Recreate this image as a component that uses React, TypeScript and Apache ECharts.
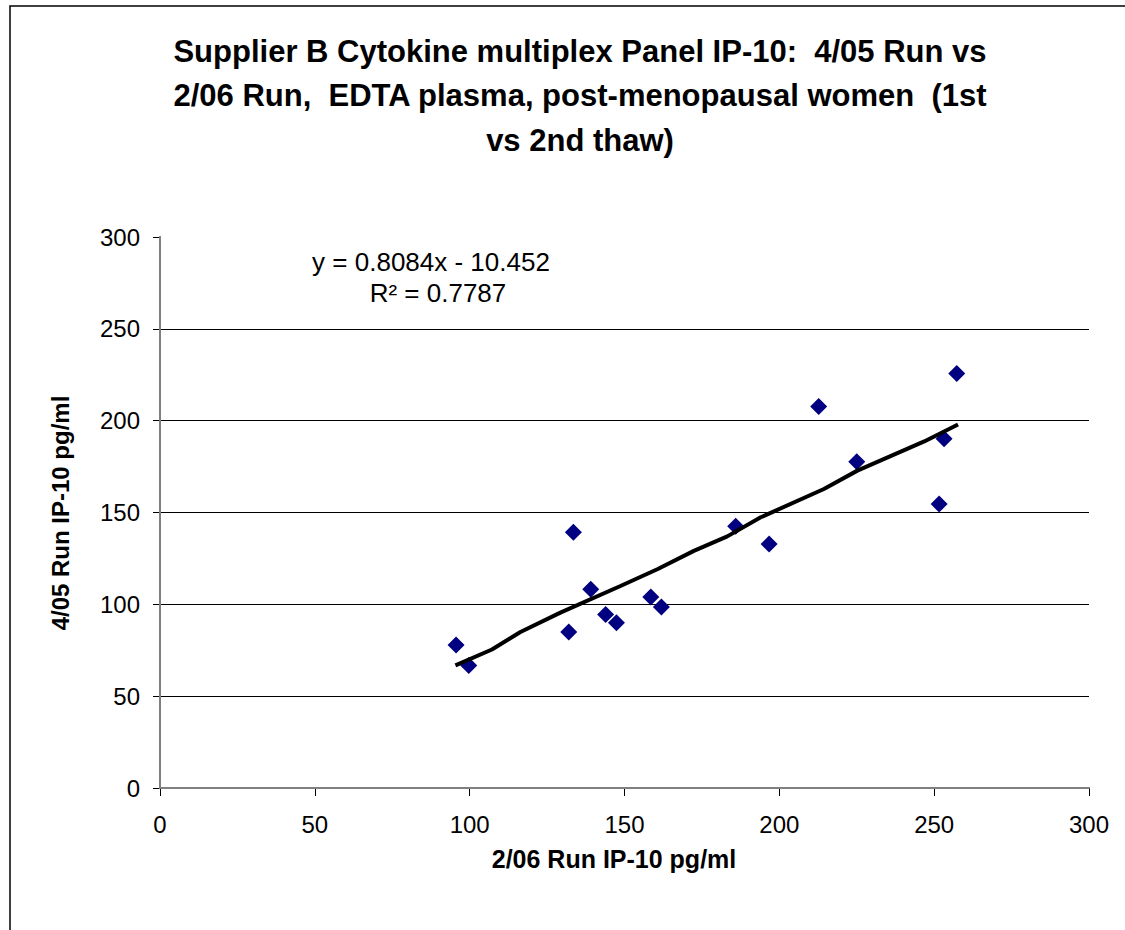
import React, { useEffect, useRef } from "react";
import * as echarts from "echarts";

const titleLines = [
  "Supplier B Cytokine multiplex Panel IP-10:  4/05 Run vs",
  "2/06 Run,  EDTA plasma, post-menopausal women  (1st",
  "vs 2nd thaw)",
];
const xAxisTitle = "2/06 Run IP-10 pg/ml";
const yAxisTitle = "4/05 Run IP-10 pg/ml";
const equationText = "y = 0.8084x - 10.452";
const r2Text = "R² = 0.7787";

const run0206 = [95.6, 99.7, 132.0, 133.5, 139.1, 143.9, 147.4, 158.5, 161.9, 185.9, 196.7, 212.7, 225.0, 251.6, 253.2, 257.3];
const run0405 = [77.8, 66.7, 84.9, 139.3, 108.2, 94.5, 90.0, 104.0, 98.5, 142.5, 132.8, 207.7, 177.6, 154.6, 190.2, 225.7];

const trendX = [95.4, 107.2, 116.4, 129.3, 148.7, 160.6, 172.4, 183.2, 194.0, 214.4, 225.2, 246.8, 257.7];
const trendY = [66.8, 75.4, 84.9, 95.5, 110.0, 119.1, 129.1, 137.0, 147.4, 162.8, 172.8, 188.7, 197.9];

const axisMin = 0;
const axisMax = 300;
const axisStep = 50;

const FONT = '"Liberation Sans", Arial, sans-serif';

export default function App() {
  const ref = useRef<HTMLDivElement>(null);
  useEffect(() => {
    document.body.style.margin = "0";
    const chart = echarts.init(ref.current!, null, { renderer: "svg" });
    const points = run0206.map((x, i) => [x, run0405[i]]);
    const trend = trendX.map((x, i) => [x, trendY[i]]);
    const hiddenAxis = {
      min: axisMin,
      max: axisMax,
      interval: axisStep,
      z: 5,
      axisLine: { show: true, lineStyle: { color: "#808080", width: 2 } },
      axisTick: { show: false },
      axisLabel: { show: false },
      splitLine: { show: false },
    };
    chart.setOption({
      animation: false,
      backgroundColor: "#ffffff",
      grid: { left: 160, right: 36, top: 237, bottom: 142, containLabel: false },
      xAxis: [
        {
          type: "value",
          min: axisMin,
          max: axisMax,
          interval: axisStep,
          axisLine: { show: true, onZero: false, lineStyle: { color: "#000", width: 1.5 } },
          axisTick: { show: true, length: 8, lineStyle: { color: "#000", width: 1 } },
          axisLabel: { color: "#000", fontSize: 24, fontFamily: FONT, margin: 24 },
          splitLine: { show: false },
        },
        { type: "value", position: "top", ...hiddenAxis },
      ],
      yAxis: [
        {
          type: "value",
          min: axisMin,
          max: axisMax,
          interval: axisStep,
          axisLine: { show: true, onZero: false, lineStyle: { color: "#000", width: 1.5 } },
          axisTick: { show: true, length: 7, lineStyle: { color: "#000", width: 1 } },
          axisLabel: { color: "#000", fontSize: 24, fontFamily: FONT, margin: 20 },
          splitLine: {
            show: true,
            showMinLine: false,
            showMaxLine: false,
            lineStyle: { color: "#000", width: 1 },
          },
        },
        { type: "value", position: "right", ...hiddenAxis },
      ],
      series: [
        {
          type: "line",
          data: trend,
          showSymbol: false,
          symbol: "none",
          lineStyle: { color: "#000", width: 4 },
          z: 3,
        },
        {
          type: "scatter",
          data: points,
          symbol: "diamond",
          symbolSize: 17,
          itemStyle: { color: "#000080", opacity: 1 },
          z: 2,
        },
      ],
      graphic: [
        {
          type: "rect",
          shape: { x: 10, y: 6, width: 1300, height: 1200 },
          style: { fill: "none", stroke: "#000", lineWidth: 1.5 },
          silent: true,
        },
        ...titleLines.map((t, i) => ({
          type: "text",
          x: 580,
          y: 51 + i * 44.5,
          style: {
            text: t,
            font: `bold 31px ${FONT}`,
            fill: "#000",
            textAlign: "center",
            textVerticalAlign: "middle",
          },
        })),
        {
          type: "text",
          x: 614,
          y: 859,
          style: {
            text: xAxisTitle,
            font: `bold 25px ${FONT}`,
            fill: "#000",
            textAlign: "center",
            textVerticalAlign: "middle",
          },
        },
        {
          type: "text",
          x: 60,
          y: 513,
          rotation: Math.PI / 2,
          style: {
            text: yAxisTitle,
            font: `bold 24px ${FONT}`,
            fill: "#000",
            textAlign: "center",
            textVerticalAlign: "middle",
          },
        },
        {
          type: "text",
          x: 431,
          y: 262,
          style: {
            text: equationText,
            font: `26px ${FONT}`,
            fill: "#000",
            textAlign: "center",
            textVerticalAlign: "middle",
          },
        },
        {
          type: "text",
          x: 438,
          y: 293,
          style: {
            text: r2Text,
            font: `26px ${FONT}`,
            fill: "#000",
            textAlign: "center",
            textVerticalAlign: "middle",
          },
        },
      ],
    });
    return () => chart.dispose();
  }, []);
  return <div ref={ref} style={{ width: 1125, height: 930 }} />;
}
